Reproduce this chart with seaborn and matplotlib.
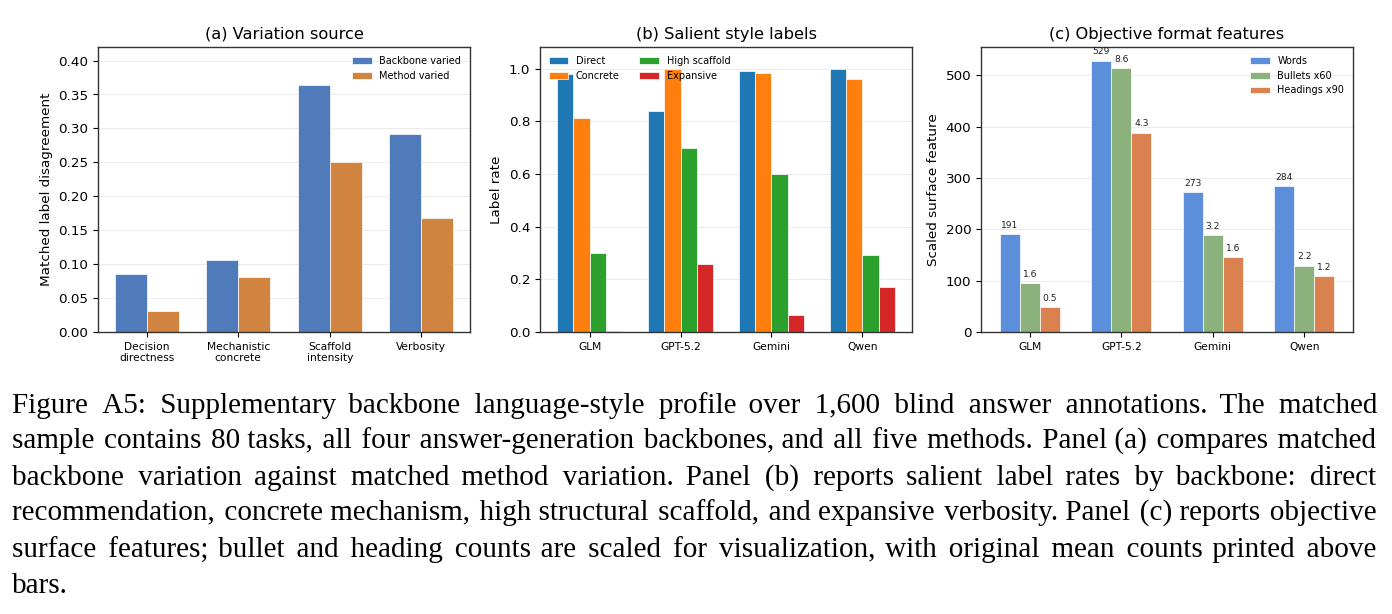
import matplotlib
matplotlib.use("Agg")
import matplotlib.pyplot as plt
import pandas as pd
import seaborn as sns
from matplotlib import font_manager as fm
from matplotlib.ft2font import FT2Font

# (a) variation source
dims = ["Decision directness", "Mechanistic concrete", "Scaffold intensity", "Verbosity"]
backbone_varied = [0.0855, 0.106, 0.3635, 0.2925]
method_varied = [0.0305, 0.0815, 0.2500, 0.1675]

# (b) salient style labels
backbones = ["GLM", "GPT-5.2", "Gemini", "Qwen"]
direct = [0.978, 0.840, 0.990, 0.998]
concrete = [0.812, 1.000, 0.983, 0.962]
high_scaffold = [0.301, 0.700, 0.601, 0.291]
expansive = [0.003, 0.260, 0.066, 0.171]

# (c) objective format features (raw means; bullets/headings scaled for display)
words = [191, 529, 273, 284]
bullets = [1.58, 8.56, 3.16, 2.16]
headings = [0.535, 4.32, 1.63, 1.21]
BULLET_SCALE = 60
HEADING_SCALE = 90

caption_lines = [
    "Figure A5: Supplementary backbone language-style profile over 1,600 blind answer annotations. The matched",
    "sample contains 80 tasks, all four answer-generation backbones, and all five methods. Panel (a) compares matched",
    "backbone variation against matched method variation. Panel (b) reports salient label rates by backbone: direct",
    "recommendation, concrete mechanism, high structural scaffold, and expansive verbosity. Panel (c) reports objective",
    "surface features; bullet and heading counts are scaled for visualization, with original mean counts printed above",
    "bars.",
]

W, H = 1392, 614
fig = plt.figure(figsize=(W / 100, H / 100), dpi=100)


def add_ax(left_px, right_px):
    return fig.add_axes([left_px / W, 1 - 332 / H, (right_px - left_px) / W, 285 / H])


def style(ax, title, ylabel):
    ax.set_title(title, fontsize=11.7)
    ax.set_ylabel(ylabel, fontsize=9.7)
    ax.set_xlabel("")
    ax.tick_params(axis="y", labelsize=9.7)
    ax.tick_params(axis="x", labelsize=7.7)
    ax.grid(axis="y", color="#dddddd", linewidth=0.7, alpha=0.6)
    ax.set_axisbelow(True)
    for s in ax.spines.values():
        s.set_color("#333333")
        s.set_linewidth(1.0)


def long_df(cats, series):
    rows = []
    for name, vals in series:
        for c, v in zip(cats, vals):
            rows.append({"cat": c, "series": name, "value": v})
    return pd.DataFrame(rows)


bar_kw = dict(saturation=1, edgecolor="white", linewidth=0.5)

# panel a
ax1 = add_ax(98, 470)
df_a = long_df(dims, [("Backbone varied", backbone_varied), ("Method varied", method_varied)])
sns.barplot(data=df_a, x="cat", y="value", hue="series", order=dims,
            palette=["#4F7BBA", "#D1843F"], width=0.7, ax=ax1, **bar_kw)
style(ax1, "(a) Variation source", "Matched label disagreement")
ax1.set_xticks(range(len(dims)))
ax1.set_xticklabels([d.replace(" ", "\n") for d in dims])
ax1.set_xlim(-0.535, 3.535)
ax1.set_ylim(0, 0.42)
ax1.set_yticks([i * 0.05 for i in range(9)])
ax1.yaxis.set_major_formatter(matplotlib.ticker.FormatStrFormatter("%.2f"))
h, l = ax1.get_legend_handles_labels()
ax1.legend(h, l, loc="upper right", frameon=False, fontsize=7)

# panel b
ax2 = add_ax(540, 912)
df_b = long_df(backbones, [("Direct", direct), ("Concrete", concrete),
                           ("High scaffold", high_scaffold), ("Expansive", expansive)])
sns.barplot(data=df_b, x="cat", y="value", hue="series", order=backbones,
            palette=["#1f77b4", "#ff7f0e", "#2ca02c", "#d62728"], width=0.72, ax=ax2, **bar_kw)
style(ax2, "(b) Salient style labels", "Label rate")
ax2.set_xlim(-0.546, 3.546)
ax2.set_ylim(0, 1.082)
ax2.set_yticks([0, 0.2, 0.4, 0.6, 0.8, 1.0])
ax2.yaxis.set_major_formatter(matplotlib.ticker.FormatStrFormatter("%.1f"))
h, l = ax2.get_legend_handles_labels()
ax2.legend(h, l, loc="upper left", ncol=2, frameon=False, fontsize=7)

# panel c
ax3 = add_ax(981, 1353)
df_c = long_df(backbones, [
    ("Words", words),
    ("Bullets x60", [b * BULLET_SCALE for b in bullets]),
    ("Headings x90", [g * HEADING_SCALE for g in headings]),
])
sns.barplot(data=df_c, x="cat", y="value", hue="series", order=backbones,
            palette=["#5B8EDB", "#8BB17D", "#D9824F"], width=0.66, ax=ax3, **bar_kw)
style(ax3, "(c) Objective format features", "Scaled surface feature")
ax3.set_xlim(-0.533, 3.533)
ax3.set_ylim(0, 555.5)
ax3.set_yticks([0, 100, 200, 300, 400, 500])
raw = [["%.0f" % v for v in words], ["%.1f" % v for v in bullets], ["%.1f" % v for v in headings]]
for cont, labs in zip(ax3.containers, raw):
    ax3.bar_label(cont, labels=labs, padding=3, fontsize=6.6, color="#222222")
h, l = ax3.get_legend_handles_labels()
ax3.legend(h, l, loc="upper right", frameon=False, fontsize=7)

# caption: one text per line, justified by padding the gaps with hair spaces
fig.canvas.draw()
renderer = fig.canvas.get_renderer()
x0, x1 = 12, 1377
first_base = 413
line_step = 36
cap_font = dict(fontsize=21, family="Liberation Serif", color="black", va="baseline")
HAIR = "\u200a" if 0x200A in FT2Font(fm.findfont("Liberation Serif")).get_charmap() else None


def text_width(s):
    t = fig.text(0, 0, s, **cap_font)
    w = t.get_window_extent(renderer).width
    t.remove()
    return w


hair_w = (text_width("x" + HAIR * 20 + "x") - text_width("xx")) / 20 if HAIR else 0
for i, line in enumerate(caption_lines):
    ws = line.split()
    y = 1 - (first_base + i * line_step) / H
    n = len(ws) - 1
    s = line
    if HAIR and hair_w > 0.5 and i < len(caption_lines) - 1 and n > 0:
        extra = max(0, int((x1 - x0 - text_width(line)) / hair_w))
        parts = [ws[0]]
        for g in range(n):
            k = round((g + 1) * extra / n) - round(g * extra / n)
            parts.append(" " + HAIR * k + ws[g + 1])
        s = "".join(parts)
    fig.text(x0 / W, y, s, **cap_font)

fig.savefig("out.png", dpi=100)
